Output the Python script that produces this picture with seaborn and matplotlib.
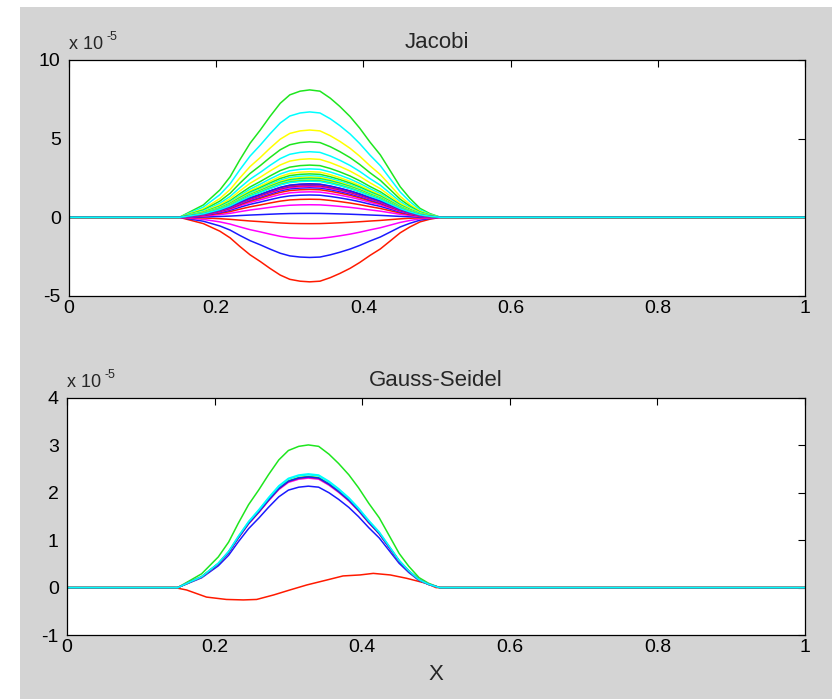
#Iteraciones de Jacobi y Gauss-Seidel: error de cada iteracion sobre x en [0, 1]
#Valores en unidades de 1e-5

import numpy as np
import pandas as pd
import matplotlib
matplotlib.use('Agg')
import matplotlib.pyplot as plt
import seaborn as sns
from matplotlib.patches import Rectangle

perfil_x = [0.0, 0.15, 0.1825, 0.205, 0.219, 0.232, 0.246, 0.26, 0.273, 0.287,
            0.30, 0.314, 0.327, 0.341, 0.355, 0.368, 0.382, 0.395, 0.409,
            0.423, 0.436, 0.45, 0.463, 0.477, 0.49, 0.505, 1.0]
perfil_f = [0.0, 0.0, 0.097, 0.215, 0.319, 0.45, 0.581, 0.686, 0.791, 0.895,
            0.961, 0.99, 1.0, 0.99, 0.935, 0.87, 0.79, 0.70, 0.59,
            0.49, 0.37, 0.24, 0.15, 0.07, 0.03, 0.0, 0.0]

#Jacobi: maximos de cada iteracion (pares abajo, impares arriba)
jacobi_abajo = [-4.1, -2.55, -1.35, -0.4, 0.25, 0.8, 1.15, 1.42, 1.62,
                1.77, 1.88, 1.96, 2.02, 2.06, 2.09, 2.11, 2.13]
jacobi_arriba = [8.1, 6.7, 5.55, 4.8, 4.17, 3.72, 3.32, 3.08, 2.9,
                 2.76, 2.64, 2.55, 2.48, 2.42, 2.37, 2.33, 2.3]

#Gauss-Seidel: primera iteracion (forma distinta) y maximos de las demas
gs_primera_x = [0.0, 0.146, 0.162, 0.189, 0.216, 0.239, 0.257, 0.28, 0.302,
                0.325, 0.352, 0.374, 0.397, 0.415, 0.438, 0.46, 0.487, 0.5, 1.0]
gs_primera_y = [0.0, 0.0, -0.05, -0.2, -0.25, -0.26, -0.25, -0.155, -0.05,
                0.056, 0.16, 0.246, 0.267, 0.3, 0.267, 0.197, 0.09, 0.0, 0.0]
gs_maximos = [3.01, 2.14, 2.40, 2.31, 2.35, 2.33, 2.34, 2.335, 2.38]

colores = ['#ff1a00', '#1ee61e', '#1a1aff', '#00ffff', '#ff00ff', '#ffff00']

#tabla larga de Jacobi
filas = []
for k in range(len(jacobi_abajo)):
    for amp, it in [(jacobi_abajo[k], 2 * k), (jacobi_arriba[k], 2 * k + 1)]:
        for xi, fi in zip(perfil_x, perfil_f):
            filas.append({'x': xi, 'y': amp * fi, 'iter': 'it%02d' % it})
jacobi = pd.DataFrame(filas)

#tabla larga de Gauss-Seidel
filas = []
for xi, yi in zip(gs_primera_x, gs_primera_y):
    filas.append({'x': xi, 'y': yi, 'iter': 'it00'})
for k, amp in enumerate(gs_maximos):
    for xi, fi in zip(perfil_x, perfil_f):
        filas.append({'x': xi, 'y': amp * fi, 'iter': 'it%02d' % (k + 1)})
gauss = pd.DataFrame(filas)

sns.set_theme(style='white')
plt.rcParams['font.family'] = ['Liberation Sans', 'DejaVu Sans']

fig = plt.figure(figsize=(8.32, 6.99), dpi=100, facecolor='white')
fig.patches.append(Rectangle((20 / 832, 0), 1, 1 - 7 / 699, transform=fig.transFigure,
                             facecolor='#d4d4d4', edgecolor='none', zorder=-10))

ax1 = fig.add_axes([69 / 832, 1 - 296 / 699, 736 / 832, 236 / 699])
ax2 = fig.add_axes([67 / 832, 1 - 635 / 699, 738 / 832, 237 / 699])

for ax, datos, lim, yt, titulo in [(ax1, jacobi, (-5, 10), [-5, 0, 5, 10], 'Jacobi'),
                                   (ax2, gauss, (-1, 4), [-1, 0, 1, 2, 3, 4], 'Gauss-Seidel')]:
    niveles = sorted(datos['iter'].unique())
    paleta = [colores[i % 6] for i in range(len(niveles))]
    sns.lineplot(data=datos, x='x', y='y', hue='iter', hue_order=niveles, palette=paleta,
                 estimator=None, sort=False, legend=False, linewidth=1.1, ax=ax)
    ax.set_facecolor('white')
    ax.set_xlim(0, 1)
    ax.set_ylim(*lim)
    ax.set_xticks([0, 0.2, 0.4, 0.6, 0.8, 1])
    ax.set_xticklabels(['0', '0.2', '0.4', '0.6', '0.8', '1'])
    ax.set_yticks(yt)
    ax.set_yticklabels([str(v) for v in yt])
    ax.tick_params(direction='in', top=True, right=True, length=5, width=0.8,
                   labelsize=14, colors='black')
    ax.tick_params(axis='x', pad=3)
    ax.tick_params(axis='y', pad=6)
    for s in ax.spines.values():
        s.set_color('black')
        s.set_linewidth(0.9)
    ax.set_title(titulo, fontsize=16, pad=9)
    ax.set_ylabel('')
    ax.set_xlabel('')
    #multiplicador del eje y, al estilo de matlab
    ax.annotate('x 10', xy=(0, 1), xycoords='axes fraction', xytext=(0, 5),
                textcoords='offset points', ha='left', va='bottom', fontsize=13)
    ax.annotate('-5', xy=(0, 1), xycoords='axes fraction', xytext=(27, 12),
                textcoords='offset points', ha='left', va='bottom', fontsize=9)

ax2.set_xlabel('X', fontsize=16, labelpad=6)

plt.savefig('out.png', dpi=100, facecolor=fig.get_facecolor())
